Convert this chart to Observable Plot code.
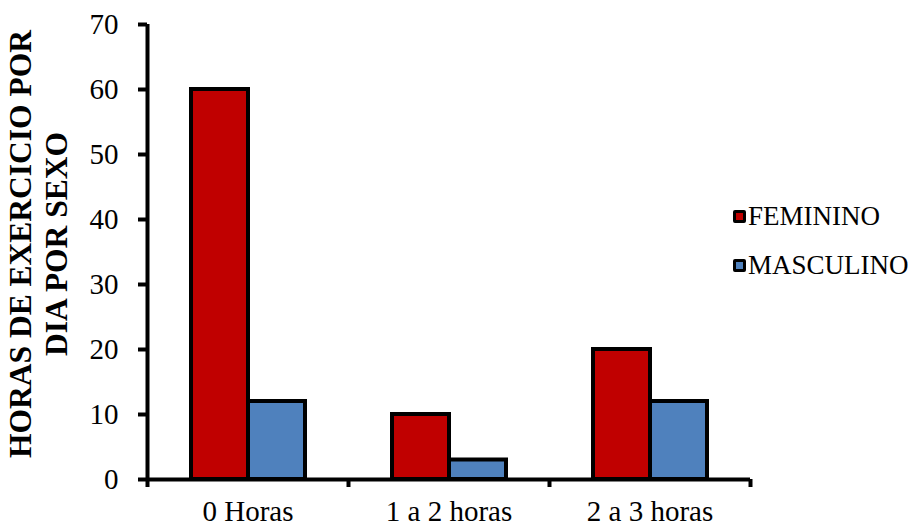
<!DOCTYPE html>
<html>
<head>
<meta charset="utf-8">
<script src="https://cdn.jsdelivr.net/npm/d3@7"></script>
<script src="https://cdn.jsdelivr.net/npm/@observablehq/plot@0.6"></script>
<style>
  body { margin: 0; background: white; }
  .serif { font-family: 'Liberation Serif', 'Times New Roman', Times, serif; }
  #wrap { position: relative; width: 914px; height: 528px; }
  #legend { position: absolute; left: 733px; top: 199px; }
  .item { display: flex; align-items: center; height: 34px; margin-bottom: 15px; font-size: 27px; color: black; }
  .sw { display: inline-block; width: 7px; height: 7px; border: 3px solid black; border-radius: 2px; margin-right: 2px; }
</style>
</head>
<body>
<div id="wrap" class="serif">
  <div id="chart"></div>
  <div id="legend" class="serif">
    <div class="item serif"><span class="sw" id="sw0"></span><span id="lg0"></span></div>
    <div class="item serif"><span class="sw" id="sw1"></span><span id="lg1"></span></div>
  </div>
</div>
<script>
const categorias = ["0 Horas", "1 a 2 horas", "2 a 3 horas"];
const feminino = [60, 10, 20];
const masculino = [12, 3, 12];
const series = ["FEMININO", "MASCULINO"];
const cores = ["#C00000", "#4F81BD"];
const yTicks = [0, 10, 20, 30, 40, 50, 60, 70];
const tituloY = "HORAS DE EXERCICIO POR\nDIA POR SEXO";

const fem = categorias.map((c, i) => ({cat: c, sexo: series[0], valor: feminino[i]}));
const mas = categorias.map((c, i) => ({cat: c, sexo: series[1], valor: masculino[i]}));

const half = 100.5;
const plot = Plot.plot({
  width: 760,
  height: 528,
  marginLeft: 147,
  marginRight: 10,
  marginTop: 24,
  marginBottom: 49,
  style: {fontFamily: "Liberation Serif", fontSize: "29px", color: "black", background: "white"},
  x: {domain: categorias, padding: 0, label: null},
  y: {domain: [0, 70], label: null},
  color: {domain: series, range: cores},
  marks: [
    Plot.barY(fem, {x: "cat", y: "valor", fill: d => d.sexo, stroke: "black", strokeWidth: 4, insetLeft: 44, insetRight: 100}),
    Plot.barY(mas, {x: "cat", y: "valor", fill: d => d.sexo, stroke: "black", strokeWidth: 4, insetLeft: 101, insetRight: 43}),
    Plot.ruleY([0], {strokeWidth: 4}),
    Plot.ruleX([categorias[0]], {x: d => d, dx: -half, strokeWidth: 4, insetBottom: -8}),
    Plot.ruleX(categorias, {x: d => d, dx: half, y1: 0, y2: 0, strokeWidth: 4, insetBottom: -8}),
    Plot.axisY({ticks: yTicks, tickSize: 9, tickPadding: 20, strokeWidth: 4, fontSize: 29, label: null}),
    Plot.axisX({tickSize: 0, tickPadding: 21, fontSize: 29, label: null}),
    Plot.text([tituloY], {frameAnchor: "left", textAnchor: "middle", rotate: -90, dx: -110, dy: -8, fontSize: 31.5, fontWeight: "bold", lineHeight: 1.14})
  ]
});
document.getElementById("chart").appendChild(plot);

series.forEach((s, i) => {
  document.getElementById("sw" + i).style.background = cores[i];
  document.getElementById("lg" + i).textContent = s;
});
</script>
</body>
</html>
